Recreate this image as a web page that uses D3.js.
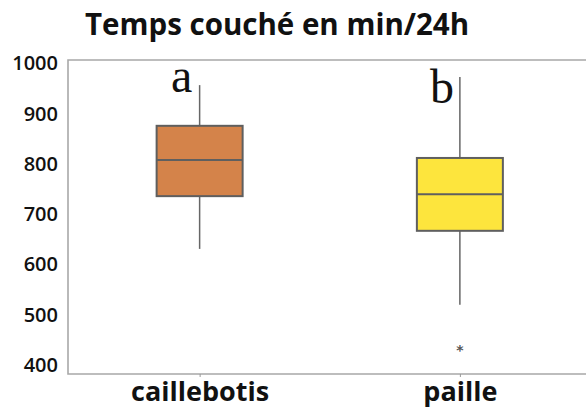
<!DOCTYPE html>
<html><head><meta charset="utf-8">
<script src="https://cdn.jsdelivr.net/npm/d3@7"></script>
<style>body{margin:0;background:#fff}svg{display:block}</style>
</head><body>
<script>
const categories = ["caillebotis", "paille"];
const whiskerLow = [631, 520];
const q1 = [736, 667];
const median = [808, 740];
const q3 = [876, 812];
const whiskerHigh = [957, 973];
const outliers = [[], [438]];
const letters = ["a", "b"];
const yTicks = [400, 500, 600, 700, 800, 900, 1000];
const colors = ["#D4834A", "#FDE53D"];

(function () {
const W = 586, H = 410;
const mLeft = 68, mTop = 60, mBottom = 374;
const svg = d3.select("body").append("svg").attr("width", W).attr("height", H);

const y = d3.scaleLinear().domain([382, 1007]).range([mBottom, mTop]);
const x = d3.scalePoint().domain(categories).range([mLeft + 1.5, 590]).padding(0.5);

svg.append("text").attr("x", 85).attr("y", 35)
  .attr("font-family", "Open Sans").attr("font-weight", 700).attr("font-size", 29.5)
  .attr("fill", "#111").text("Temps couché en min/24h");

svg.append("path").attr("d", `M${W+2},${mTop}H${mLeft}V${mBottom}H${W+2}`)
  .attr("fill", "none").attr("stroke", "#a8a8a8").attr("stroke-width", 1.6);

const yAxis = d3.axisLeft(y).tickValues(yTicks).tickSize(0).tickPadding(10).tickFormat(d3.format("d"));
const gy = svg.append("g").attr("transform", `translate(${mLeft},0)`).call(yAxis);
gy.select(".domain").remove();
gy.selectAll("text").attr("font-family", "Open Sans").attr("font-weight", 600)
  .attr("font-size", 20).attr("fill", "#111");

const xAxis = d3.axisBottom(x).tickSize(3).tickPadding(5);
const gx = svg.append("g").attr("transform", `translate(0,${mBottom})`).call(xAxis);
gx.select(".domain").remove();
gx.selectAll("line").attr("stroke", "#999");
gx.selectAll("text").attr("font-family", "Open Sans").attr("font-weight", 700)
  .attr("font-size", 27).attr("fill", "#111");

const bw = 86;
categories.forEach((c, i) => {
  const cx = x(c);
  const g = svg.append("g");
  g.append("line").attr("x1", cx).attr("x2", cx).attr("y1", y(whiskerHigh[i])).attr("y2", y(q3[i]))
    .attr("stroke", "#666").attr("stroke-width", 1.5);
  g.append("line").attr("x1", cx).attr("x2", cx).attr("y1", y(q1[i])).attr("y2", y(whiskerLow[i]))
    .attr("stroke", "#666").attr("stroke-width", 1.5);
  g.append("rect").attr("x", cx - bw / 2).attr("width", bw)
    .attr("y", y(q3[i])).attr("height", y(q1[i]) - y(q3[i]))
    .attr("fill", colors[i]).attr("stroke", "#5f5f5f").attr("stroke-width", 2);
  g.append("line").attr("x1", cx - bw / 2).attr("x2", cx + bw / 2)
    .attr("y1", y(median[i])).attr("y2", y(median[i]))
    .attr("stroke", "#5f5f5f").attr("stroke-width", 2);
  outliers[i].forEach(o => {
    g.append("text").attr("x", cx).attr("y", y(o) + 9).attr("text-anchor", "middle")
      .attr("font-family", "DejaVu Sans").attr("font-weight", "bold").attr("font-size", 14)
      .attr("fill", "#555").text("*");
  });
  g.append("text").attr("x", cx - 18).attr("y", y(whiskerHigh[i]) + (i === 0 ? 7 : 26))
    .attr("text-anchor", "middle").attr("font-family", "Liberation Serif")
    .attr("font-size", 48).attr("fill", "#111").text(letters[i]);
});
})();
</script>
</body></html>
